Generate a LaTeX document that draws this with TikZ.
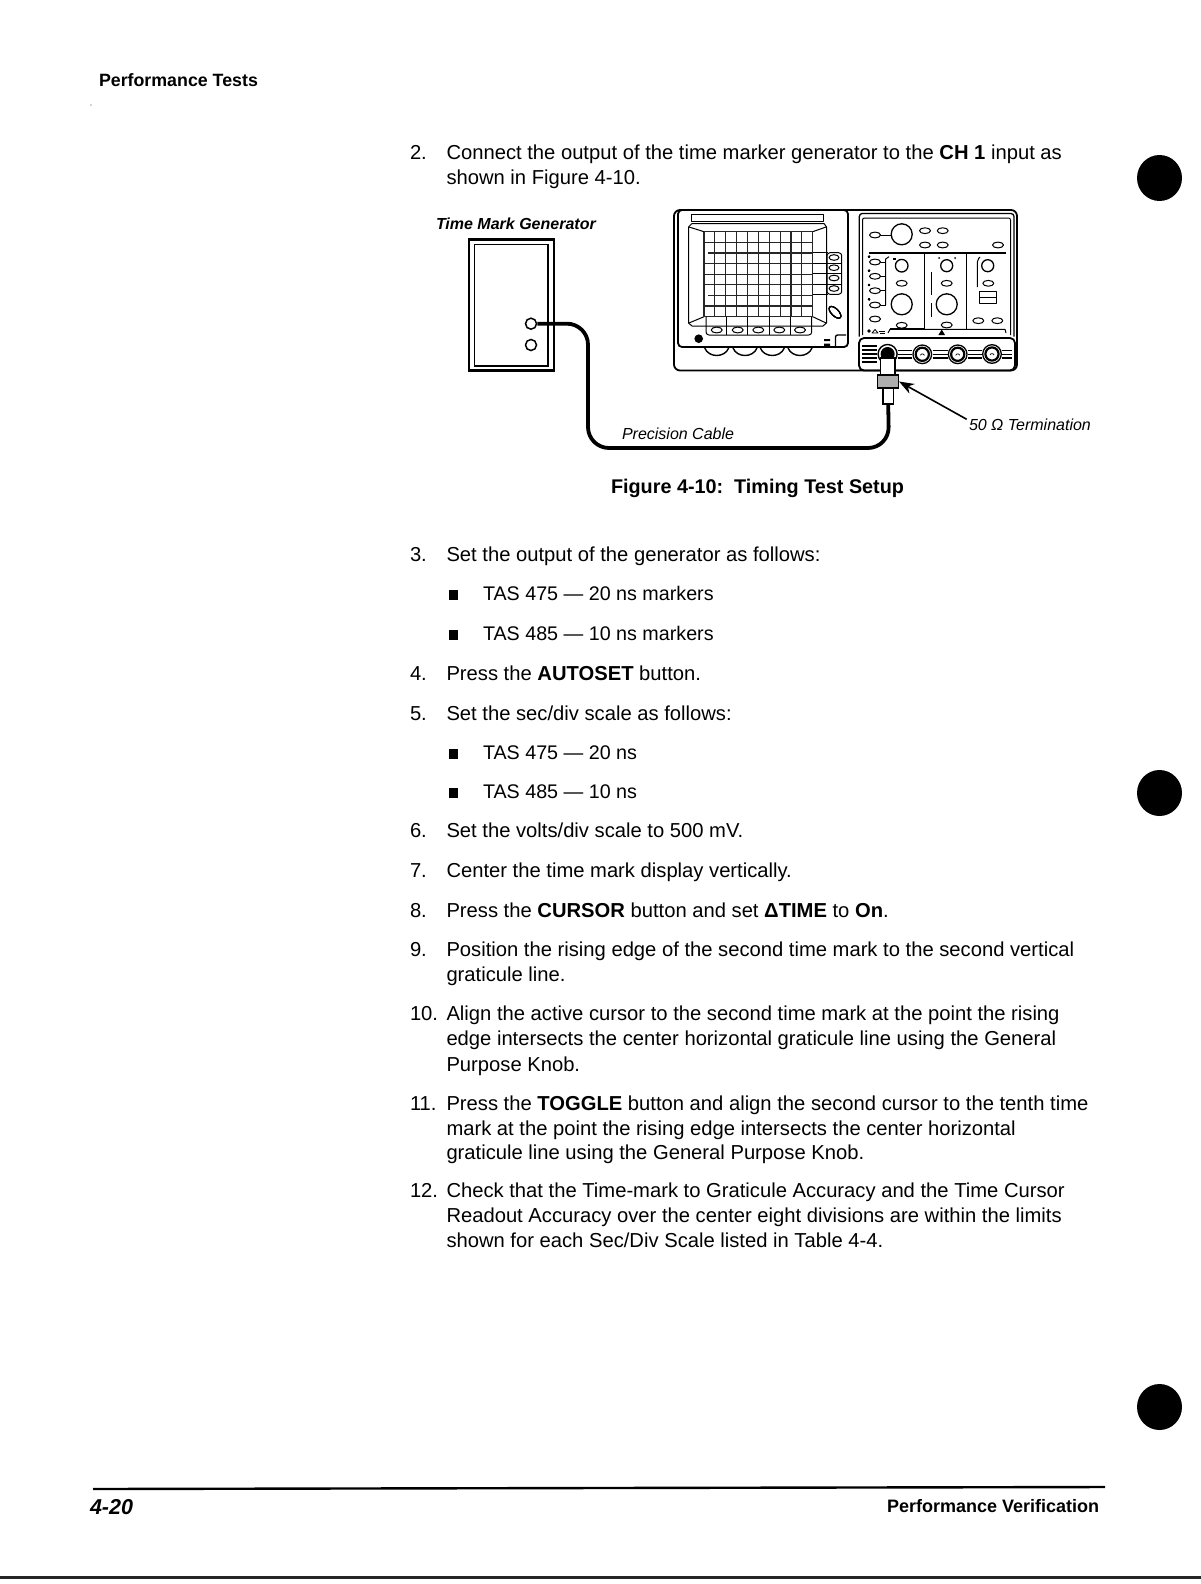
\documentclass[tikz,border=0pt]{standalone}
\usepackage{fontspec}
\setmainfont{Liberation Sans}
\usetikzlibrary{arrows.meta}
\newcommand{\bodysz}{\fontsize{20.2}{22}\selectfont}
\newcommand{\bulsz}{\fontsize{19.7}{22}\selectfont}
\newcommand{\labsz}{\fontsize{16}{18}\selectfont}
\newcommand{\tl}[4]{\node[txt] (#1) at (#2,#3) {\bodysz #4};}
\newcommand{\ov}[2]{\draw[part] (#1,#2) ellipse (5.5 and 2.9);}
\newcommand{\knob}[3]{\draw[part,line width=1.3pt] (#1,#2) circle (#3);}
\newcommand{\bnc}[2]{\draw[line width=1.3pt] (#1,#2) circle (9.3); \draw[line width=2.2pt] (#1,#2) circle (6.6);\draw[line width=.7pt] (#1-2,#2+1) arc (200:340:2.2);}
\newcommand{\bull}[1]{\fill (448.5,#1-10) rectangle ++(9.5,10);}
\tikzset{
  txt/.style={anchor=base west,inner sep=0pt,outer sep=0pt,text=black},
  part/.style={draw=black,line width=1pt,line join=round},
  frm/.style={draw=black,line width=1.8pt,rounded corners=6pt},
  grat/.style={draw=black!85,line width=1.2pt},
  cable/.style={draw=black,line width=3.8pt,rounded corners=21pt},
  jack/.style={circle,draw=black,fill=white,line width=1.5pt,minimum size=11pt,inner sep=0pt},
  tbox/.style={draw=black,fill=white,line width=1.4pt,inner sep=0pt},
}
\begin{document}
\begin{tikzpicture}[x=1pt,y=-1pt]
\useasboundingbox (0,0) rectangle (1201,1584);
\fill[white] (0,0) rectangle (1201,1584);
% header and specks
\node[txt] (hdr) at (99,87) {\fontsize{17.8}{20}\selectfont\bfseries Performance Tests};
\fill[black!70] (91,105) circle (.6);
% registration dots
\fill (1159.5,178) ellipse (22.5 and 23);
\fill (1159.5,793) ellipse (22.5 and 23);
\fill (1159.5,1407) ellipse (22.5 and 23);
% body
\tl{n2}{410}{159}{2.}
\tl{l2a}{446.5}{159}{Connect the output of the time marker generator to the \textbf{CH 1} input as}
\tl{l2b}{446.5}{184}{shown in Figure 4-10.}
\node[txt] (cap) at (611,493) {\fontsize{19.8}{22}\selectfont\bfseries Figure 4-10:\ \ Timing Test Setup};
\tl{n3}{410}{561}{3.}
\tl{l3}{446.5}{561}{Set the output of the generator as follows:}
\bull{600}\tl{b1}{483}{600}{\bulsz TAS 475 — 20 ns markers}
\bull{640}\tl{b2}{483}{640}{\bulsz TAS 485 — 10 ns markers}
\tl{n4}{410}{680}{4.}
\tl{l4}{446.5}{680}{Press the \textbf{AUTOSET} button.}
\tl{n5}{410}{720}{5.}
\tl{l5}{446.5}{720}{Set the sec/div scale as follows:}
\bull{759}\tl{b3}{483}{759}{\bulsz TAS 475 — 20 ns}
\bull{798}\tl{b4}{483}{798}{\bulsz TAS 485 — 10 ns}
\tl{n6}{410}{837}{6.}
\tl{l6}{446.5}{837}{Set the volts/div scale to 500 mV.}
\tl{n7}{410}{877}{7.}
\tl{l7}{446.5}{877}{Center the time mark display vertically.}
\tl{n8}{410}{917}{8.}
\tl{l8}{446.5}{917}{Press the \textbf{CURSOR} button and set \textbf{ΔTIME} to \textbf{On}.}
\tl{n9}{410}{956}{9.}
\tl{l9a}{446.5}{956}{Position the rising edge of the second time mark to the second vertical}
\tl{l9b}{446.5}{981}{graticule line.}
\tl{n10}{410}{1020}{10.}
\tl{l10a}{446.5}{1020}{Align the active cursor to the second time mark at the point the rising}
\tl{l10b}{446.5}{1045}{edge intersects the center horizontal graticule line using the General}
\tl{l10c}{446.5}{1071}{Purpose Knob.}
\tl{n11}{410}{1110}{11.}
\tl{l11a}{446.5}{1110}{Press the \textbf{TOGGLE} button and align the second cursor to the tenth time}
\tl{l11b}{446.5}{1135}{mark at the point the rising edge intersects the center horizontal}
\tl{l11c}{446.5}{1159}{graticule line using the General Purpose Knob.}
\tl{n12}{410}{1197}{12.}
\tl{l12a}{446.5}{1197}{Check that the Time-mark to Graticule Accuracy and the Time Cursor}
\tl{l12b}{446.5}{1222}{Readout Accuracy over the center eight divisions are within the limits}
\tl{l12c}{446.5}{1247}{shown for each Sec/Div Scale listed in Table 4-4.}
% footer
\draw[line width=2.4pt] (93,1489) -- (1105,1487);
\node[txt] (pg) at (90,1514) {\fontsize{21.5}{22}\selectfont\bfseries\itshape 4-20};
\node[txt] (ft) at (887,1512) {\fontsize{18}{20}\selectfont\bfseries Performance Verification};
\draw[line width=3pt,draw=black!85] (0,1577) -- (1201,1577);
% generator
\node[txt] (tmg) at (436,229) {\labsz\bfseries\itshape Time Mark Generator};
\draw[line width=2.8pt] (469,239.5) rectangle (554,370.5);
\draw[line width=1.3pt] (474.5,244.5) rectangle (548,366);
\node[jack] (o1) at (531,323.7) {};
\node[jack] (o2) at (531,345) {};
% scope body
\draw[frm] (674,210) rectangle (1017,370.5);
\draw[frm,rounded corners=4pt,fill=white] (678,210) rectangle (848,347);
\draw[part] (691,214) rectangle (823.5,221.7);
% bezel
\draw[part] (692,223.5) -- (824,223.5) -- (826.5,227) -- (826.5,323) -- (823,326) -- (692,326) -- (688.5,323) -- (688.5,227) -- cycle;
\draw[part] (689,227) -- (704,231.7) (826,227) -- (812.7,231.7) (689,323) -- (704,316.7) (826,323) -- (812.7,316.7);
% graticule
\foreach \i in {0,...,10} \draw[grat] ({704+10.87*\i},231.7) -- ({704+10.87*\i},316.7);
\foreach \j in {0,1,3,4,5,7,8} \draw[grat] (704,{231.7+10.62*\j}) -- (812.7,{231.7+10.62*\j});
\foreach \j in {2,6} \draw[grat] (708,{231.7+10.62*\j}) -- (812.7,{231.7+10.62*\j});
% side buttons
\foreach \y in {252.7,263.2,273.7,284,294.3} \draw[part] (812.7,\y) -- (828,\y);
\draw[part,rounded corners=3pt] (827,252.7) rectangle (841.7,294.3);
\foreach \y in {263.2,273.7,284} \draw[part] (827,\y) -- (841.7,\y);
\foreach \y in {257.5,267.7,278,288.5} \draw[part] (834,\y) ellipse (5 and 2.8);
% bottom buttons
\draw[part,rounded corners=3pt] (706,316.7) -- (706,335) -- (811.7,335) -- (811.7,316.7);
\foreach \x in {726.7,747.7,769,790} \draw[part] (\x,316.7) -- (\x,335);
\foreach \x in {716.7,737.7,758.3,779.3,800} \ov{\x}{330}
\draw[part,rotate around={-45:(835,312.3)}] (835,312.3) ellipse (7.5 and 3.6);
\fill (698.7,338.7) circle (4.3);
\draw[part,line width=1.4pt,rounded corners=2pt] (846,335) -- (835.5,335) -- (835.5,346);
\fill (824,339) rectangle ++(6,2.2) (824,343.5) rectangle ++(6,2.4);
% lens feet
\foreach \x in {716.7,745,772.3,800} \draw[line width=1.4pt] (\x-12,348) .. controls (\x-8,358) and (\x+8,358) .. (\x+12,348);
% right panel
\draw[part,line width=1.3pt,rounded corners=3pt] (859.3,336.5) -- (859.3,213.5) -- (1014,213.5) -- (1014,336.5);
\draw[part,rounded corners=2pt] (862.5,335) -- (862.5,218) -- (1010.5,218) -- (1010.5,335);
\knob{901.7}{234.3}{10.5}
\ov{875}{235}
\draw[part] (880.5,235) -- (891.2,235);
\ov{925}{230.7}\ov{942.7}{230.7}\ov{925}{245}\ov{942.7}{245}\ov{998}{245}
\draw[line width=2.6pt] (869,253) -- (1006,253);
\foreach \y in {262,276.3,290.7,305,319} \ov{875}{\y}
\foreach \y in {256.7,270.7,285,299.3} \fill (869,\y) circle (1.2);
\draw[part] (889,256.7) -- (885.7,259) -- (885.7,305);
\foreach \y in {262,276.3,290.7,305} \draw[part] (880.5,\y) -- (885.7,\y);
\draw[part,line width=1.3pt] (924.3,254) -- (924.3,329) (966.7,254) -- (966.7,329);
\knob{901.7}{265.7}{6.3}
\ov{901.7}{283.3}
\knob{901.7}{304.3}{10.5}
\ov{901.7}{325.3}
\knob{946.7}{265.7}{6}
\ov{946.7}{283.3}
\knob{946.7}{304.3}{10.5}
\ov{946.7}{325}
\fill (939,258) circle (1) (955,258) circle (1);
\fill (893,258) rectangle (896,260);
\draw[part] (931.7,272) -- (931.7,295) (931.7,303) -- (931.7,317);
\knob{987.7}{265.7}{6}
\ov{988.3}{283.3}
\draw[part,rounded corners=2pt] (980,257) -- (977.3,260) -- (977.3,287);
\draw[part] (979.3,291.7) rectangle (996,303.3);
\draw[line width=1.6pt] (979.3,297.4) -- (996,297.4);
\ov{978.3}{320.7}\ov{997.3}{320.7}
\draw[part] (888,333) -- (890,329.3) -- (1005,329.3) -- (1006,333);
\draw[line width=1.8pt] (890,329.3) -- (924.3,329.3);
\fill (941.7,329.5) -- (945,335) -- (938.4,335) -- cycle;
\fill (869,331) circle (1.8);
\draw[part,line width=.8pt] (872,333) -- (875,329.5) -- (878,333) -- cycle;
\draw[part,line width=.8pt] (879,331) -- (885,331) (880,333.5) -- (885,333.5);
% connector panel
\draw[frm,rounded corners=5pt] (859,338) rectangle (1015,370.5);
\foreach \y in {346,350,354,358,362} \draw[line width=1.2pt] (862,\y) -- (877,\y);
\foreach \y in {350.4,354.2,358} {
  \draw[line width=1.2pt] (897.5,\y) -- (912,\y);
  \draw[line width=1.2pt] (932.5,\y) -- (947.5,\y);
  \draw[line width=1.2pt] (968,\y) -- (982,\y);
  \draw[line width=1.2pt] (1002,\y) -- (1012,\y);
}
\bnc{922.3}{354.3}\bnc{957.7}{354.3}\bnc{992}{354}
% CH1 BNC and termination
\draw[line width=1.4pt] (887.6,354) circle (9.5);
\fill (887.6,354) circle (7);
\node[tbox,minimum width=14.2pt,minimum height=17pt] (tup) at (887.8,366.5) {};
\node[tbox,draw=black,fill=black!32,minimum width=20.6pt,minimum height=13pt] (tmid) at (888,381.5) {};
\node[tbox,minimum width=10.3pt,minimum height=16pt] (tlow) at (888.2,396) {};
% cable
\path[cable,draw] (o1.east) -- (588,323.7) -- (588,448) -- (889,448) -- (tlow.south);
% arrow
\coordinate (arrowtail) at (966.7,419.3);
\draw[line width=1.6pt,-{Stealth[length=15pt,width=11pt]}] (arrowtail) -- (tmid.east);
% labels
\node[txt] (pc) at (622,439) {\labsz\itshape Precision Cable};
\node[txt] (tm) at (969,430) {\labsz\itshape 50 Ω Termination};
\end{tikzpicture}
\end{document}
